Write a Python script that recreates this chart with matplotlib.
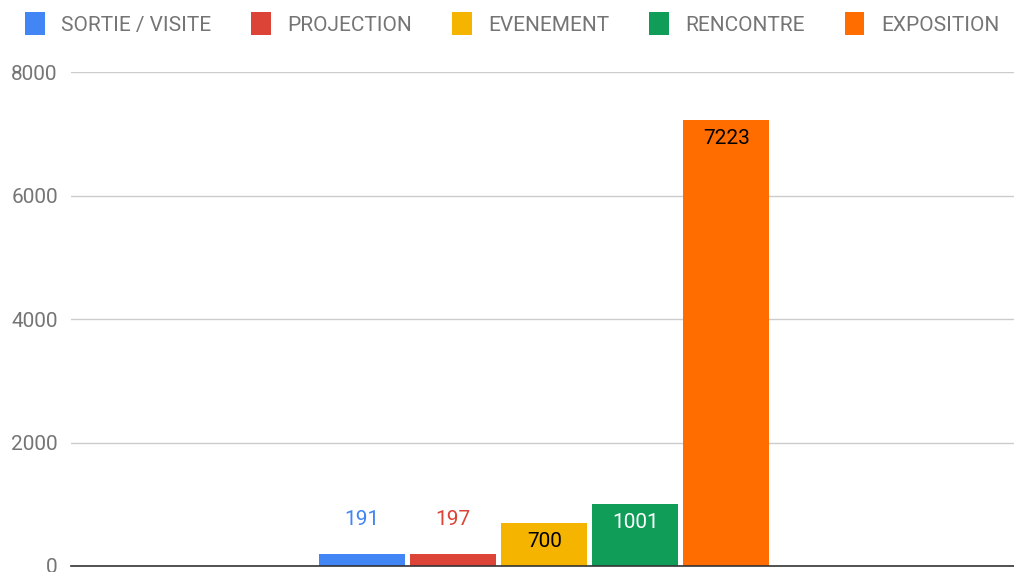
import matplotlib
matplotlib.use('Agg')
import matplotlib.pyplot as plt
from matplotlib.patches import Patch

plt.rcParams['font.family'] = ['Roboto', 'DejaVu Sans']

# data
categories = ['SORTIE / VISITE', 'PROJECTION', 'EVENEMENT', 'RENCONTRE', 'EXPOSITION']
values = [191, 197, 700, 1001, 7223]
colors = ['#4285F4', '#DB4437', '#F4B400', '#0F9D58', '#FF6D01']
label_colors = ['#4285F4', '#DB4437', '#000000', '#FFFFFF', '#000000']
label_inside = [False, False, True, True, True]

fig = plt.figure(figsize=(10.14, 5.72), dpi=100)
ax = fig.add_axes([0.070, 0.0105, 0.930, 0.8635])

xs = [i - 2 for i in range(len(values))]
bars = ax.bar(xs, values, width=0.945, color=colors, zorder=3)

for b, v, lc, inside in zip(bars, values, label_colors, label_inside):
    x = b.get_x() + b.get_width() / 2
    off = -13.5 if inside else 25
    ax.annotate(str(v), xy=(x, v), xytext=(0, off), textcoords='offset points',
                ha='center', va='center', fontsize=15, color=lc, zorder=4)

ax.set_xlim(-5.2, 5.16)
ax.set_ylim(0, 8000)
ax.set_yticks([0, 2000, 4000, 6000, 8000])
ax.set_xticks([])
ax.grid(axis='y', color='#cccccc', linewidth=1, zorder=0)
for s in ['top', 'right', 'left']:
    ax.spines[s].set_visible(False)
ax.spines['bottom'].set_color('#333333')
ax.spines['bottom'].set_linewidth(1.2)
ax.spines['bottom'].set_zorder(5)
ax.tick_params(axis='y', length=0, pad=9.5, labelsize=15, labelcolor='#757575')

handles = [Patch(facecolor=c, edgecolor='none') for c in colors]
fig.legend(handles, categories, loc='upper center', bbox_to_anchor=(0.505, 1.012),
           ncol=5, frameon=False, fontsize=15, labelcolor='#757575',
           handlelength=0.95, handleheight=1.35, handletextpad=0.8, columnspacing=1.9)

plt.savefig('out.png', dpi=100)
